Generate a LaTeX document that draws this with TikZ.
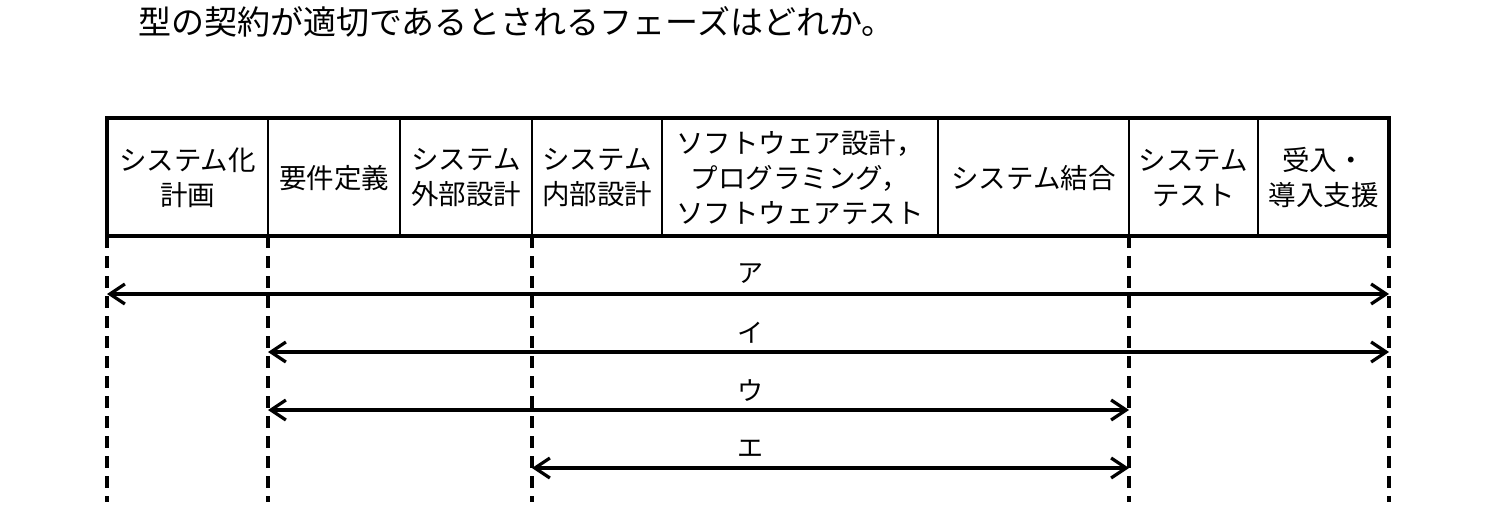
\documentclass[tikz,border=0pt]{standalone}
\usepackage{fontspec}
\setmainfont{Noto Sans CJK JP}
\usetikzlibrary{arrows.meta}
\begin{document}
\begin{tikzpicture}[x=1pt,y=-1pt,
  cell/.style={align=center,font=\fontsize{27.5}{35}\selectfont,inner sep=0pt},
  lab/.style={font=\fontsize{26}{28}\selectfont,inner sep=0pt},
  frame/.style={line width=3.4pt},
  sep/.style={line width=2.6pt},
  guide/.style={line width=3.2pt,dash pattern=on 12pt off 8pt},
  spanarrow/.style={line width=3.2pt,
    {Straight Barb[length=15pt,width=20pt,line width=3.2pt]}-{Straight Barb[length=15pt,width=20pt,line width=3.2pt]}}]
\useasboundingbox (0,0) rectangle (1500,530);
\fill[white] (0,0) rectangle (1500,530);
% title
\node[anchor=west,inner sep=0pt,font=\fontsize{33}{36}\selectfont] (title) at (138,22) {型の契約が適切であるとされるフェーズはどれか。};
% boundary coordinates
\foreach \n/\x in {0/107,1/268,2/400,3/532,4/662,5/938,6/1129,7/1258,8/1389}{
  \coordinate (t\n) at (\x,118);
  \coordinate (b\n) at (\x,236);
  \coordinate (e\n) at (\x,502);
}
% table
\draw[frame] (t0) rectangle (b8);
\foreach \n in {1,...,7}{ \draw[sep] (t\n) -- (b\n); }
% cells
\node[cell] (c1) at (187.5,178) {システム化\\計画};
\node[cell] (c2) at (334,178) {要件定義};
\node[cell] (c3) at (466,178) {システム\\外部設計};
\node[cell] (c4) at (597,178) {システム\\内部設計};
\node[cell] (c5) at (800,178) {ソフトウェア設計，\\プログラミング，\\ソフトウェアテスト};
\node[cell] (c6) at (1033.5,178) {システム結合};
\node[cell] (c7) at (1193.5,178) {システム\\テスト};
\node[cell] (c8) at (1323.5,178) {受入・\\導入支援};
% dashed guides
\foreach \n in {0,1,3,6,8}{ \draw[guide] (b\n) -- (e\n); }
% arrow end points
\coordinate (aL) at (107,294);  \coordinate (aR) at (1389,294);
\coordinate (iL) at (268,352);  \coordinate (iR) at (1389,352);
\coordinate (uL) at (268,410);  \coordinate (uR) at (1129,410);
\coordinate (eL) at (532,468);  \coordinate (eR) at (1129,468);
\draw[spanarrow] (aL) -- (aR);
\draw[spanarrow] (iL) -- (iR);
\draw[spanarrow] (uL) -- (uR);
\draw[spanarrow] (eL) -- (eR);
% labels
\node[lab] (la) at (750,274) {ア};
\node[lab] (li) at (750,333) {イ};
\node[lab] (lu) at (750,391) {ウ};
\node[lab] (le) at (750,449) {エ};
\end{tikzpicture}
\end{document}
